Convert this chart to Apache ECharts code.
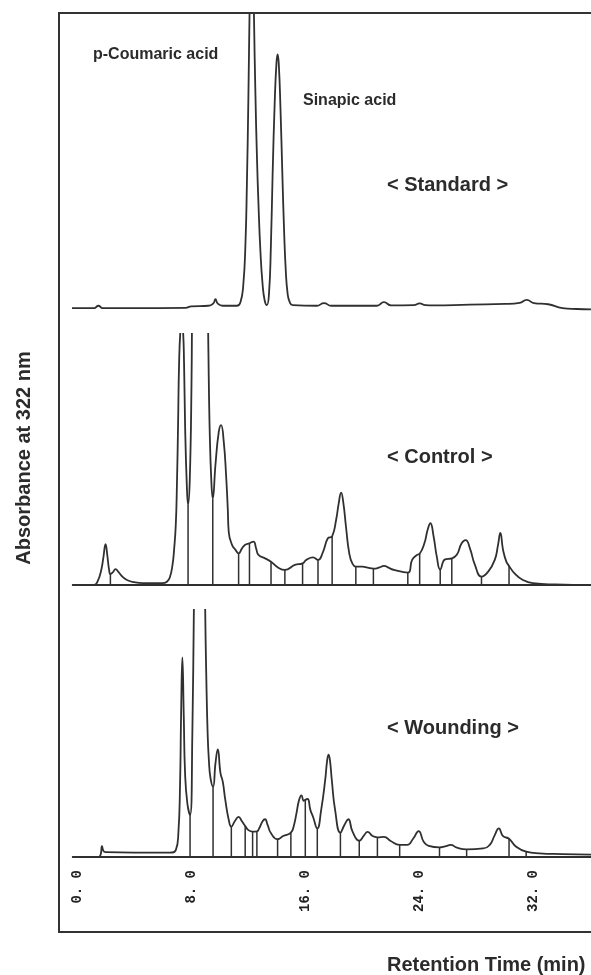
<!DOCTYPE html>
<html>
<head>
<meta charset="utf-8">
<script src="https://cdn.jsdelivr.net/npm/echarts@6/dist/echarts.min.js"></script>
<style>
  html, body { margin: 0; padding: 0; background: #fff; }
  #chart { width: 591px; height: 975px; }
</style>
</head>
<body>
<div id="chart"></div>
<script>
// ---- Data (retention time in min, absorbance in arbitrary units; 100 = top of each panel) ----
const tickValues = [0, 8, 16, 24, 32];

const stdTime = [-0.35, 1.2, 1.5, 1.8, 4.0, 7.6, 8.0, 9.2, 9.55, 9.7, 9.85, 10.2, 11.2, 11.45, 11.65, 11.8, 11.9, 12.0, 12.1, 12.25, 12.4, 12.5, 12.6, 12.72, 12.85, 13.0, 13.15, 13.3, 13.45, 13.58, 13.7, 13.85, 13.97, 14.05, 14.13, 14.25, 14.38, 14.5, 14.62, 14.75, 14.9, 15.1, 16.8, 17.3, 17.8, 21.0, 21.5, 22.0, 23.6, 24.0, 24.4, 25.0, 27.5, 30.0, 31.0, 31.5, 32.0, 33.0, 34.0, 35.0, 36.0];
const stdAbs  = [0, 0, 0.8, 0, 0, 0.1, 0.6, 0.8, 1.6, 3.0, 1.6, 0.8, 0.8, 2, 8, 22, 42, 70, 105, 150, 98, 72, 52, 34, 19, 8, 2.5, 1, 5, 21, 45, 70, 83, 86, 83, 68, 46, 27, 13, 5, 2, 1, 0.8, 1.7, 0.8, 0.8, 2, 0.9, 1.0, 1.6, 1.0, 0.9, 1.2, 1.4, 1.8, 2.8, 1.7, 1.3, 0, -0.3, -0.4];

const ctrlTime = [-0.3, 1.2, 1.45, 1.7, 1.85, 2.0, 2.12, 2.25, 2.34, 2.5, 2.7, 2.9, 3.2, 3.5, 4.0, 4.6, 6.0, 6.3, 6.5, 6.69, 6.8, 6.92, 7.0, 7.08, 7.15, 7.25, 7.33, 7.42, 7.5, 7.57, 7.69, 7.78, 7.9, 8.02, 8.1, 8.6, 9.1, 9.2, 9.3, 9.42, 9.51, 9.7, 9.93, 10.09, 10.28, 10.44, 10.56, 10.63, 10.86, 11.1, 11.32, 11.55, 11.78, 12.08, 12.36, 12.55, 12.71, 13.17, 13.59, 14.1, 14.56, 15.26, 15.8, 16.06, 16.53, 16.88, 17.22, 17.57, 17.87, 18.15, 18.33, 18.5, 18.66, 18.84, 19.07, 19.3, 19.53, 20.0, 20.35, 20.76, 21.2, 21.5, 21.85, 22.2, 23.17, 23.47, 23.82, 24.0, 24.33, 24.56, 24.75, 24.98, 25.2, 25.44, 25.78, 26.25, 26.6, 26.94, 27.22, 27.52, 27.87, 28.33, 28.8, 29.26, 29.49, 29.65, 29.84, 30.07, 30.26, 30.65, 31.23, 31.92, 33.5, 36.0];
const ctrlAbs  = [0, 0, 1.5, 6, 11, 16.3, 12, 6, 4.4, 5, 6.3, 5.2, 3.2, 2, 1.1, 0.7, 0.7, 1.3, 3, 8, 14, 24, 40, 64, 88, 102, 104, 102, 88, 64, 40, 32, 42, 80, 130, 150, 140, 95, 60, 40, 34.5, 48, 61, 63.7, 57, 44, 30.5, 21, 16, 14, 12.6, 14.5, 16, 16.6, 17.3, 14.5, 12, 10.6, 9.3, 6.9, 6, 8, 8.6, 10, 11, 10, 13, 18.6, 19.4, 26, 32.5, 36.8, 32.5, 23.2, 12.6, 8.4, 7.3, 7.3, 6.9, 6.5, 7, 7.6, 6.8, 6, 4.9, 10, 12, 12.4, 16.6, 22, 24.6, 19.2, 11.3, 6.2, 10.2, 10.6, 12, 16.6, 17.9, 14.6, 8, 3.3, 5.3, 10, 16, 20.8, 14, 9.3, 7.6, 4.6, 2, 0.7, 0.2, 0];
const ctrlDrops = [2.34, 7.78, 9.51, 11.32, 12.08, 13.59, 14.56, 15.8, 16.88, 17.87, 19.53, 20.76, 23.17, 24.0, 25.44, 26.25, 28.33, 30.26];

const woundTime = [-0.3, 1.5, 1.65, 1.75, 1.85, 2.0, 4.0, 6.5, 6.92, 7.1, 7.22, 7.29, 7.38, 7.48, 7.57, 7.73, 7.92, 8.08, 8.19, 8.3, 8.9, 8.98, 9.05, 9.15, 9.24, 9.35, 9.53, 9.7, 9.86, 10.05, 10.21, 10.39, 10.63, 10.81, 11.05, 11.32, 11.55, 11.78, 12.01, 12.3, 12.6, 12.75, 13.0, 13.17, 13.35, 13.59, 14.05, 14.44, 14.98, 15.2, 15.37, 15.55, 15.72, 15.88, 15.99, 16.15, 16.35, 16.53, 16.83, 17.1, 17.38, 17.52, 17.62, 17.72, 17.85, 18.08, 18.45, 18.73, 19.0, 19.3, 19.77, 20.12, 20.35, 20.7, 21.04, 21.5, 21.97, 22.6, 23.13, 23.54, 23.93, 24.28, 24.63, 25.39, 25.78, 26.18, 26.6, 27.29, 28.45, 28.91, 29.26, 29.54, 29.84, 30.26, 30.76, 31.46, 32.38, 34.0, 36.0];
const woundAbs  = [0, 0, 0.8, 4.4, 2.5, 2.0, 1.8, 1.8, 2.8, 9.6, 29.8, 56.8, 80.8, 56.8, 33.9, 21.7, 17, 50, 102, 140, 140, 100, 75, 50, 39, 32, 28.5, 38, 43.6, 34, 30.5, 23, 15, 12.3, 14.5, 16.3, 14.5, 12.6, 10.9, 10.3, 10.4, 11.5, 14.5, 15.3, 13, 9.6, 7.2, 8.5, 9.9, 13, 17.7, 23, 25, 22.8, 23.2, 23.5, 19, 16.3, 11.6, 19, 31, 39, 41.5, 39, 31, 19, 9.9, 13, 15.3, 10.3, 6.6, 8.9, 10.2, 8.5, 8, 8.2, 6.5, 4.9, 4.9, 7.4, 10.5, 6.2, 4.5, 3.9, 4.3, 4.9, 3.8, 3.1, 3.5, 4.9, 8.9, 11.6, 8.5, 7.4, 4.2, 2.2, 1.5, 1.2, 1];
const woundDrops = [7.92, 9.53, 10.81, 11.78, 12.3, 12.6, 14.05, 14.98, 15.99, 16.83, 18.45, 19.77, 21.04, 22.6, 25.39, 27.29, 30.26, 31.46];

const panelNames = ['< Standard >', '< Control >', '< Wounding >'];
const peakNames = ['p-Coumaric acid', 'Sinapic acid'];
const xTitle = 'Retention Time (min)';
const yTitle = 'Absorbance at 322 nm';

// ---- Build ----
const zip = (a, b) => a.map((t, i) => [t, b[i]]);
const dropData = (drops, times, vals) => drops.map(t => [t, vals[times.indexOf(t)]]);

const INK = '#303030';
const X_MIN = -0.3, X_MAX = 36;
const GL = 72.7, GW = 522.7;

const grids = [
  { left: GL, width: GW, top: 13, height: 301 },
  { left: GL, width: GW, top: 334, height: 256 },
  { left: GL, width: GW, top: 610, height: 252 }
];

function xAxis(i, showLine, showLabels) {
  return {
    type: 'value', gridIndex: i, min: X_MIN, max: X_MAX,
    axisLine: { show: showLine, onZero: true, lineStyle: { color: INK, width: 1.8 } },
    axisTick: { show: false },
    splitLine: { show: false },
    axisLabel: {
      show: showLabels,
      customValues: tickValues,
      rotate: 90,
      margin: 8,
      fontFamily: 'Liberation Mono, DejaVu Sans Mono, monospace',
      fontWeight: 'bold',
      fontSize: 14,
      color: '#222',
      formatter: v => v.toFixed(1).replace('.', '. ')
    }
  };
}
function yAxis(i) {
  return { type: 'value', gridIndex: i, min: -2, max: 100, show: false, splitLine: { show: false } };
}
function curve(i, data) {
  return {
    type: 'line', xAxisIndex: i, yAxisIndex: i, data: data,
    showSymbol: false, symbol: 'none', smooth: 0.5, clip: true,
    lineStyle: { color: INK, width: 1.8, join: 'round' }, silent: true, animation: false
  };
}
function drops(i, data) {
  return {
    type: 'custom', xAxisIndex: i, yAxisIndex: i, data: data, silent: true, animation: false,
    renderItem: function (params, api) {
      const t = api.value(0), h = api.value(1);
      const p0 = api.coord([t, 0]);
      const p1 = api.coord([t, h]);
      return { type: 'line', shape: { x1: p0[0], y1: p0[1], x2: p1[0], y2: p1[1] },
               style: { stroke: INK, lineWidth: 1.5 } };
    }
  };
}

const FONT = 'Liberation Sans, Arial, sans-serif';
const txt = (text, x, y, size) => ({
  type: 'text', x: x, y: y, silent: true,
  style: { text: text, fontFamily: FONT, fontWeight: 'bold',
           fontSize: size, fill: '#2b2b2b', align: 'left', verticalAlign: 'middle' }
});

const option = {
  animation: false,
  backgroundColor: '#fff',
  grid: grids,
  xAxis: [xAxis(0, false, false), xAxis(1, true, false), xAxis(2, true, true)],
  yAxis: [yAxis(0), yAxis(1), yAxis(2)],
  series: [
    curve(0, zip(stdTime, stdAbs)),
    curve(1, zip(ctrlTime, ctrlAbs)),
    drops(1, dropData(ctrlDrops, ctrlTime, ctrlAbs)),
    curve(2, zip(woundTime, woundAbs)),
    drops(2, dropData(woundDrops, woundTime, woundAbs))
  ],
  graphic: [
    { type: 'rect', silent: true, z: 10, shape: { x: 59, y: 13, width: 620, height: 919 },
      style: { fill: 'none', stroke: '#333', lineWidth: 2 } },
    txt(peakNames[0], 93, 55, 16),
    txt(peakNames[1], 303, 101, 16),
    txt(panelNames[0], 387, 185, 20),
    txt(panelNames[1], 387, 457, 20),
    txt(panelNames[2], 387, 728, 20),
    txt(xTitle, 387, 965, 20),
    { type: 'text', x: 24, y: 458, rotation: Math.PI / 2, silent: true,
      style: { text: yTitle, fontFamily: FONT, fontWeight: 'bold',
               fontSize: 20, fill: '#2b2b2b', align: 'center', verticalAlign: 'middle' } }
  ]
};

const chart = echarts.init(document.getElementById('chart'), null, { renderer: 'canvas' });
chart.setOption(option);
</script>
</body>
</html>
